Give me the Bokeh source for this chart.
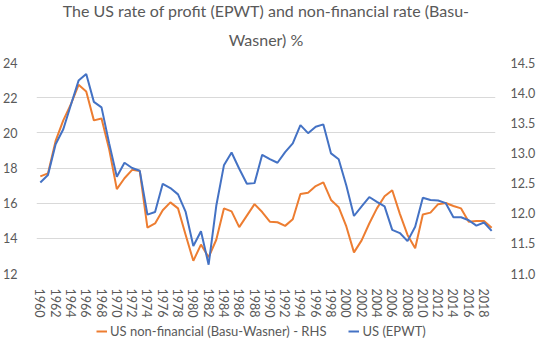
import math
from bokeh.plotting import figure
from bokeh.layouts import column
from bokeh.models import (Range1d, LinearAxis, FixedTicker, NumeralTickFormatter,
                          Legend, LegendItem, Title)
from bokeh.embed import file_html
from bokeh.resources import INLINE

years = list(range(1960, 2020))

us_epwt = [17.18, 17.6, 19.35, 20.2, 21.6, 22.97, 23.34, 21.76, 21.45, 19.4,
           17.5, 18.3, 18.0, 17.84, 15.35, 15.5, 17.1, 16.86, 16.5, 15.5,
           13.56, 14.4, 12.5, 15.85, 18.15, 18.88, 17.96, 17.1, 17.14, 18.75,
           18.5, 18.3, 18.9, 19.4, 20.44, 19.98, 20.35, 20.48, 18.83, 18.5,
           17.0, 15.27, 15.82, 16.35, 16.07, 15.82, 14.48, 14.3, 13.84, 14.66,
           16.31, 16.18, 16.15, 16.0, 15.2, 15.2, 15.03, 14.72, 14.9, 14.42]

us_nonfin = [12.61, 12.66, 13.2, 13.54, 13.81, 14.13, 14.02, 13.54, 13.57, 13.06,
             12.4, 12.58, 12.72, 12.70, 11.76, 11.83, 12.05, 12.18, 12.08, 11.64,
             11.21, 11.48, 11.27, 11.56, 12.08, 12.03, 11.77, 11.96, 12.15, 12.02,
             11.86, 11.85, 11.79, 11.9, 12.32, 12.34, 12.45, 12.51, 12.22, 12.1,
             11.78, 11.35, 11.55, 11.83, 12.08, 12.28, 12.38, 11.99, 11.64, 11.42,
             11.98, 12.01, 12.15, 12.17, 12.12, 12.08, 11.86, 11.87, 11.87, 11.76]

left_ticks = [12, 14, 16, 18, 20, 22, 24]
right_ticks = [11.0, 11.5, 12.0, 12.5, 13.0, 13.5, 14.0, 14.5]
x_ticks = list(range(1960, 2019, 2))

series_names = ["US non-financial (Basu-Wasner) - RHS", "US (EPWT)"]
title_l1 = "The US rate of profit (EPWT) and non-financial rate (Basu-"
title_l2 = "Wasner) %"

FONT = "Lato"
TXT = "#595959"
ORANGE = "#ED7D31"
BLUE = "#4472C4"

p = figure(width=540, height=320, output_backend="svg", toolbar_location=None,
           x_range=Range1d(1959.5, 2019.5), y_range=Range1d(12, 24),
           min_border_left=33, min_border_right=45, min_border_top=62,
           min_border_bottom=40, title=None)
p.extra_y_ranges = {"rhs": Range1d(11.0, 14.5)}

for txt, so in [(title_l2, 28), (title_l1, -12)]:
    t = Title(text=txt, align="center", text_font=FONT, text_font_size="16px",
              text_color=TXT, text_font_style="normal", standoff=so, offset=6)
    p.add_layout(t, "above")

p.outline_line_color = None
p.background_fill_color = "white"
p.border_fill_color = "white"

p.xgrid.visible = False
p.ygrid.ticker = FixedTicker(ticks=left_ticks)
p.ygrid.grid_line_color = "#D9D9D9"
p.ygrid.grid_line_width = 1

for ax in [p.xaxis[0], p.yaxis[0]]:
    ax.axis_line_color = None
    ax.major_tick_line_color = None
    ax.minor_tick_line_color = None
    ax.major_label_text_font = FONT
    ax.major_label_text_font_size = "12.5px"
    ax.major_label_text_color = TXT

p.yaxis[0].ticker = FixedTicker(ticks=left_ticks)
p.yaxis[0].major_label_standoff = 13
p.xaxis[0].ticker = FixedTicker(ticks=x_ticks)
p.xaxis[0].major_label_orientation = -math.pi / 2
p.xaxis[0].major_label_standoff = 9

rax = LinearAxis(y_range_name="rhs", ticker=FixedTicker(ticks=right_ticks),
                 formatter=NumeralTickFormatter(format="0.0"))
rax.axis_line_color = None
rax.major_tick_line_color = None
rax.minor_tick_line_color = None
rax.major_label_text_font = FONT
rax.major_label_text_font_size = "12.5px"
rax.major_label_text_color = TXT
rax.major_label_standoff = 9
p.add_layout(rax, "right")

p.line(years, us_nonfin, y_range_name="rhs", line_color=ORANGE, line_width=2)
p.line(years, us_epwt, line_color=BLUE, line_width=2)

# legend strip below the chart (series lie outside this strip's range; only the key shows)
lf = figure(width=540, height=31, output_backend="svg", toolbar_location=None,
            x_range=Range1d(0, 1), y_range=Range1d(0, 1),
            min_border=0, title=None)
lf.axis.visible = False
lf.grid.visible = False
lf.outline_line_color = None
lr_or = lf.line(years, us_nonfin, line_color=ORANGE, line_width=2)
lr_bl = lf.line(years, us_epwt, line_color=BLUE, line_width=2)
leg = Legend(items=[LegendItem(label=series_names[0], renderers=[lr_or]),
                    LegendItem(label=series_names[1], renderers=[lr_bl])],
             orientation="horizontal", location=(60, 12),
             label_text_font=FONT, label_text_font_size="13px", label_text_color=TXT,
             glyph_width=11, glyph_height=16, label_standoff=3, spacing=22,
             padding=0, margin=0, border_line_color=None, background_fill_alpha=0)
lf.add_layout(leg, "center")

open("out.html", "w").write(file_html(column(p, lf, spacing=0), INLINE))
